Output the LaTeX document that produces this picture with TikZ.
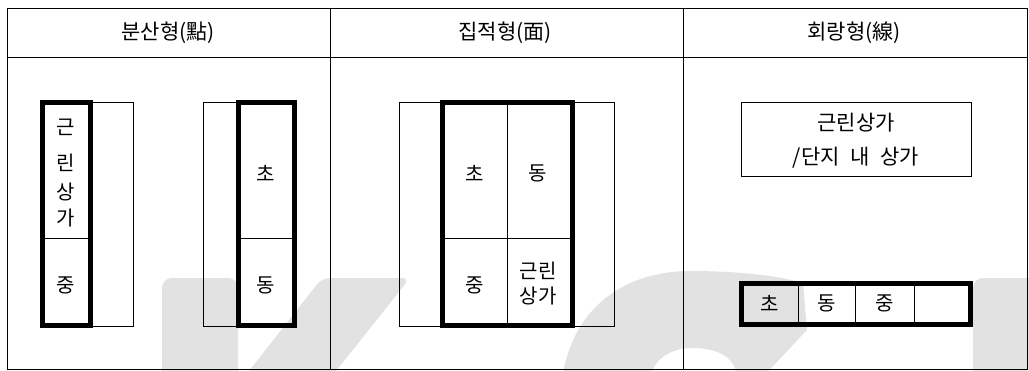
\documentclass[tikz,border=0pt]{standalone}
\usepackage{fontspec}
\setmainfont{Noto Sans CJK KR}
\definecolor{wm}{RGB}{226,226,226}
\begin{document}
\begin{tikzpicture}[x=1pt,y=-1pt,
  tbl/.style={line width=1pt, draw=black},
  thinbox/.style={draw, line width=0.8pt, inner sep=0pt, outer sep=0pt},
  thickbox/.style={draw, line width=5pt, inner sep=0pt, outer sep=0pt},
  divider/.style={line width=0.8pt},
  lbl/.style={font=\fontsize{20}{25}\selectfont, inner sep=0pt, align=center},
  hdr/.style={font=\fontsize{21}{24}\selectfont, inner sep=0pt}]
\useasboundingbox (0,0) rectangle (1029,370);
% watermark
\begin{scope}
\clip (0,0) rectangle (1029,370);
\fill[wm, rounded corners=10pt] (162,385) -- (162,278) -- (238,278) -- (238,385) -- cycle;
\fill[wm, rounded corners=8pt] (238,385) -- (322,278) -- (410,278) -- (325,385) -- cycle;
\fill[wm, rounded corners=10pt] (973,385) -- (973,278) -- (1045,278) -- (1045,385) -- cycle;
\fill[wm] (562,380) .. controls (572,305) and (628,271) .. (690,271)
  .. controls (740,271) and (780,276) .. (803,283)
  -- (807,330) -- (760,380) -- (738,380)
  .. controls (736,355) and (715,348) .. (692,348)
  .. controls (670,348) and (652,360) .. (650,380) -- cycle;
\end{scope}
% table
\draw[tbl] (7,8) rectangle (1027.5,369);
\draw[tbl] (7,57) -- (1027.5,57);
\draw[tbl] (330,8) -- (330,369);
\draw[tbl] (683,8) -- (683,369);
\node[hdr] (h1) at (168,32.5) {분산형(點)};
\node[hdr] (h2) at (505,32.5) {집적형(面)};
\node[hdr] (h3) at (854,32.5) {회랑형(線)};
% panel 1, left element
\node[thinbox, minimum width=92pt, minimum height=224pt] (a1) at (87,214) {};
\node[thickbox, minimum width=48.5pt, minimum height=223pt] (a2) at (66.25,213.5) {};
\draw[divider] (a2.west |- 0,238) -- (a2.east |- 0,238);
\node[lbl] (a3) at (66,127.5) {근};
\node[lbl] (a4) at (66,163) {린};
\node[lbl] (a5) at (66,192) {상};
\node[lbl] (a6) at (66,217.5) {가};
\node[lbl] (a7) at (66,285) {중};
% panel 1, right element
\node[thinbox, minimum width=91.5pt, minimum height=224pt] (b1) at (248.75,214) {};
\node[thickbox, minimum width=56pt, minimum height=223pt] (b2) at (266.5,213.5) {};
\draw[divider] (b2.west |- 0,238) -- (b2.east |- 0,238);
\node[lbl] (b3) at (266,173) {초};
\node[lbl] (b4) at (266,285) {동};
% panel 2
\node[thinbox, minimum width=215pt, minimum height=224pt] (c1) at (506.8,214) {};
\node[thickbox, minimum width=130pt, minimum height=223pt] (c2) at (507,213.5) {};
\draw[divider] (c2.west |- 0,238) -- (c2.east |- 0,238);
\draw[divider] (c2.north) -- (c2.south);
\node[lbl] (c3) at (475,173) {초};
\node[lbl] (c4) at (538,173) {동};
\node[lbl] (c5) at (475,285) {중};
\node[lbl] (c6) at (538,284) {근린\\상가};
% panel 3
\node[thinbox, minimum width=230pt, minimum height=74pt] (d1) at (856,139) {};
\node[lbl, font=\fontsize{21}{34}\selectfont] (d2) at (856,141) {근린상가\\/단지\hspace{6pt} 내\hspace{6pt} 상가};
\node[thickbox, minimum width=229.5pt, minimum height=41pt] (e1) at (855.75,304) {};
\draw[divider] (798.3,0 |- e1.north) -- (798.3,0 |- e1.south);
\draw[divider] (855.7,0 |- e1.north) -- (855.7,0 |- e1.south);
\draw[divider] (914,0 |- e1.north) -- (914,0 |- e1.south);
\node[lbl] (e2) at (770,303) {초};
\node[lbl] (e3) at (827,303) {동};
\node[lbl] (e4) at (885,303) {중};
\end{tikzpicture}
\end{document}
